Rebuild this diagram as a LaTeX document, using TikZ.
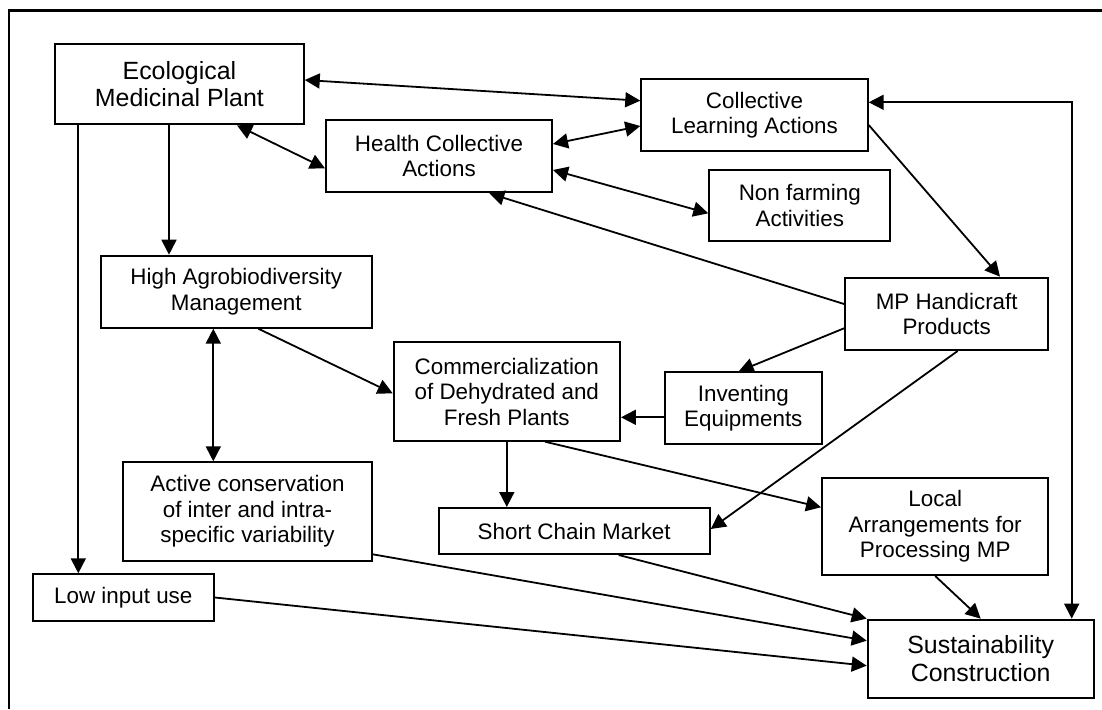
\documentclass[tikz,border=0pt]{standalone}
\usepackage{fontspec}
\setmainfont{Liberation Sans}
\usetikzlibrary{arrows.meta}
\tikzset{
  box/.style={draw, line width=2pt, inner sep=0pt, align=center, font=\fontsize{22.4}{25.5}\selectfont},
  bigbox/.style={box, font=\fontsize{24.9}{27.7}\selectfont},
  conn/.style={line width=1.8pt, -{Triangle[length=15pt,width=15pt]}},
  bconn/.style={line width=1.8pt, {Triangle[length=15pt,width=15pt]}-{Triangle[length=15pt,width=15pt]}},
  frame/.style={line width=2.4pt}
}
\begin{document}
\begin{tikzpicture}[x=1pt,y=-1pt]
\useasboundingbox (0,0) rectangle (1102,709);
\draw[frame] (9,709) -- (9,10.7) -- (1102,10.7);

\node[bigbox, minimum width=248.7pt, minimum height=80.6pt] (eco) at (179.4,84) {Ecological\\Medicinal Plant};
\node[box, minimum width=226pt, minimum height=72.3pt] (health) at (439,156.2) {Health Collective\\Actions};
\node[box, minimum width=271.3pt, minimum height=72pt] (agro) at (236.3,291.7) {High Agrobiodiversity\\Management};
\node[box, minimum width=226.4pt, minimum height=72pt] (learn) at (754.5,115) {Collective\\Learning Actions};
\node[box, minimum width=181pt, minimum height=71.3pt] (nonfarm) at (799.8,205.3) {Non farming\\Activities};
\node[box, minimum width=203.3pt, minimum height=72.3pt] (mp) at (946.7,313.8) {MP Handicraft\\Products};
\node[box, minimum width=226.3pt, minimum height=98.4pt] (comm) at (506.8,391.5) {Commercialization\\of Dehydrated and\\Fresh Plants};
\node[box, minimum width=157.3pt, minimum height=71.7pt] (invent) at (743.3,408.2) {Inventing\\Equipments};
\node[box, minimum width=248.4pt, minimum height=98.4pt] (active) at (247.5,511.5) {Active conservation\\of inter and intra-\\specific variability};
\node[box, minimum width=181.3pt, minimum height=46.4pt] (low) at (123.3,597.5) {Low input use};
\node[box, minimum width=271pt, minimum height=46pt] (short) at (574.2,531) {Short Chain Market};
\node[box, minimum width=226.3pt, minimum height=97pt] (local) at (935.2,526.5) {Local\\Arrangements for\\Processing MP};
\node[bigbox, minimum width=226pt, minimum height=78.3pt] (sust) at (980.7,658.8) {Sustainability\\Construction};

% double arrows
\draw[bconn] ([yshift=4pt]eco.east) -- ([yshift=14.3pt]learn.west);
\draw[bconn] ([xshift=57.6pt]eco.south) -- ([yshift=-12.1pt]health.west);
\draw[bconn] ([yshift=12.2pt]health.east) -- ([yshift=-11pt]learn.west);
\draw[bconn] ([yshift=-13.8pt]health.east) -- ([yshift=-8pt]nonfarm.west);
\draw[bconn] ([yshift=12.7pt]learn.east) -| ([xshift=91pt]sust.north);
\draw[bconn] ([xshift=-23pt]agro.south) -- ([xshift=-23pt]agro.south |- active.north);

% single arrows
\draw[conn] ([yshift=9.8pt]mp.west) -- ([xshift=50.3pt]health.south);
\draw[conn] ([yshift=-10pt]learn.east) -- ([xshift=53.3pt]mp.north);
\draw[conn] ([xshift=-10.4pt]eco.south) -- ([xshift=-10.4pt]eco.south |- agro.north);
\draw[conn] ([xshift=-101.1pt]eco.south) -- ([xshift=-101.1pt]eco.south |- low.north);
\draw[conn] ([xshift=22pt]agro.south) -- ([yshift=-1.8pt]comm.west);
\draw[conn] (comm.south) -- (comm.south |- short.north);
\draw[conn] ([yshift=-9.1pt]invent.west) -- ([yshift=-9.1pt]invent.west -| comm.east);
\draw[conn] ([yshift=-14.5pt]mp.west) -- ([xshift=-4.6pt]invent.north);
\draw[conn] ([xshift=11pt]mp.south) -- ([yshift=2pt]short.east);
\draw[conn] ([xshift=38.2pt]comm.south) -- ([yshift=19.2pt]local.west);
\draw[conn] (local.south) -- (sust.north);
\draw[conn] ([xshift=44.5pt]short.south) -- (sust.north west);
\draw[conn] ([yshift=7.4pt]active.south east) -- ([yshift=18.1pt]sust.west);
\draw[conn] (low.east) -- ([yshift=-6.9pt]sust.west);
\end{tikzpicture}
\end{document}
